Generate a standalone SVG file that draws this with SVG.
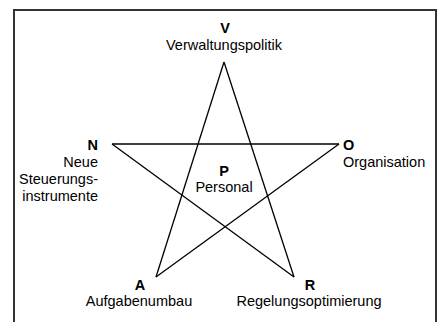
<svg xmlns="http://www.w3.org/2000/svg" width="440" height="322" viewBox="0 0 440 322">
<style>
text{font-family:"Liberation Sans",Arial,sans-serif;font-size:14.5px;fill:#000}
.b{font-weight:bold}
.c{text-anchor:middle}
.r{text-anchor:end}
.edge{stroke:#000;stroke-width:1.3;fill:none}
</style>
<rect x="14" y="10" width="422" height="330" fill="#fff" stroke="#333" stroke-width="2"/>
<g id="connectors">
<line class="edge" x1="224" y1="62" x2="156" y2="277"/>
<line class="edge" x1="224" y1="62" x2="294" y2="277"/>
<line class="edge" x1="112" y1="144" x2="339" y2="144"/>
<line class="edge" x1="112" y1="144" x2="294" y2="277"/>
<line class="edge" x1="339" y1="144" x2="156" y2="277"/>
</g>
<g id="V"><text class="b c" x="225" y="33">V</text><text class="c" x="224" y="50">Verwaltungspolitik</text></g>
<g id="N"><text class="b r" x="98" y="150">N</text><text class="r" x="98" y="167">Neue</text><text class="r" x="98" y="184">Steuerungs-</text><text class="r" x="98" y="201">instrumente</text></g>
<g id="O"><text class="b" x="343" y="150">O</text><text x="343" y="167">Organisation</text></g>
<g id="P"><text class="b c" x="224" y="176">P</text><text class="c" x="224" y="192">Personal</text></g>
<g id="A"><text class="b c" x="140" y="290">A</text><text class="c" x="139" y="306">Aufgabenumbau</text></g>
<g id="R"><text class="b c" x="310" y="290">R</text><text class="c" x="309" y="306">Regelungsoptimierung</text></g>
</svg>
